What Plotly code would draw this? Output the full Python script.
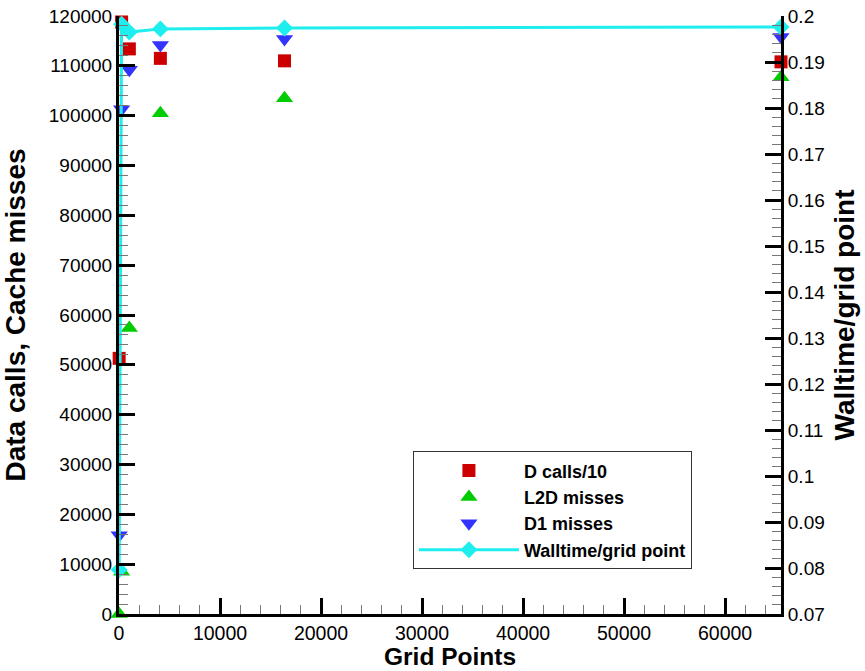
import plotly.graph_objects as go

grid_points = [16, 256, 1024, 4096, 16384, 65536]
d_calls_10 = [51300, 118800, 113400, 111500, 111000, 110800]
l2d_misses = [0, 8500, 57400, 100500, 103500, 107700]
d1_misses = [15800, 101300, 109200, 114200, 115400, 115800]
walltime = [0.0796, 0.1982, 0.1965, 0.1972, 0.1974, 0.1976]

FONT = "Liberation Sans, Arial, sans-serif"

fig = go.Figure()
fig.add_trace(go.Scatter(x=grid_points, y=d_calls_10, mode="markers", name="D calls/10",
                         marker=dict(symbol="square", size=13, color="#CC0000"), cliponaxis=False))
fig.add_trace(go.Scatter(x=grid_points, y=l2d_misses, mode="markers", name="L2D misses",
                         marker=dict(symbol="triangle-up", size=15, color="#00CC00"), cliponaxis=False))
fig.add_trace(go.Scatter(x=grid_points, y=d1_misses, mode="markers", name="D1 misses",
                         marker=dict(symbol="triangle-down", size=15, color="#3333FF"), cliponaxis=False))
fig.add_trace(go.Scatter(x=grid_points, y=walltime, mode="lines+markers", name="Walltime/grid point",
                         yaxis="y2", line=dict(color="#1EEEEE", width=3),
                         marker=dict(symbol="diamond", size=13, color="#1EEEEE"), cliponaxis=False))

axis_common = dict(showgrid=False, zeroline=False, showline=True, linecolor="black", linewidth=3,
                   ticks="inside", ticklen=16, tickwidth=2.5, tickcolor="black", automargin=False,
                   tickfont=dict(family=FONT, size=19, color="black"))

fig.update_layout(
    width=865, height=671,
    margin=dict(l=119, r=84, t=16, b=57, autoexpand=False),
    plot_bgcolor="white", paper_bgcolor="white",
    font=dict(family=FONT, color="black"),
    xaxis=dict(range=[0, 65536], dtick=10000, tick0=0, tickformat="d",
               minor=dict(dtick=2000, ticks="inside", ticklen=9, tickwidth=1, tickcolor="#777"),
               **{**axis_common, "tickfont": dict(family=FONT, size=19.5, color="black")}),
    yaxis=dict(range=[0, 120000], dtick=10000, tick0=0, tickformat="d",
               title=dict(text="Data calls, Cache misses", font=dict(family=FONT, size=28, weight="bold"), standoff=19),
               minor=dict(dtick=2000, ticks="inside", ticklen=9, tickwidth=1, tickcolor="#777"),
               **axis_common),
    yaxis2=dict(range=[0.07, 0.2], dtick=0.01, tick0=0.07, overlaying="y", side="right",
                title=dict(text="Walltime/grid point", font=dict(family=FONT, size=28, weight="bold"), standoff=11),
                minor=dict(dtick=0.002, ticks="inside", ticklen=9, tickwidth=1, tickcolor="#777"),
                **axis_common),
    legend=dict(x=0.444, y=0.272, xanchor="left", yanchor="top",
                bordercolor="#333", borderwidth=1, bgcolor="white",
                font=dict(family=FONT, size=18, weight="bold", color="black"),
                itemwidth=100),
    showlegend=True,
    annotations=[dict(text="Grid Points", xref="paper", yref="paper", x=0.5, y=-0.0953,
                      xanchor="center", yanchor="bottom", showarrow=False, height=26, valign="middle",
                      font=dict(family=FONT, size=24.5, weight="bold", color="black"))],
)

fig.write_html("out.html")
